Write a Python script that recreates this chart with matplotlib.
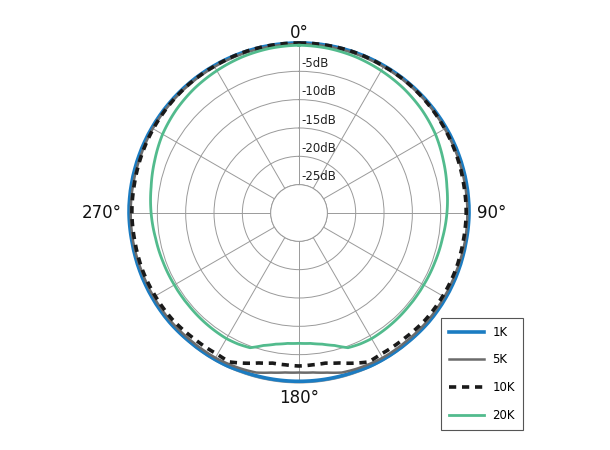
import numpy as np
import matplotlib
matplotlib.use('Agg')
import matplotlib.pyplot as plt

# angles (deg, clockwise from top) shared by all curves
angles = [0, 10, 20, 30, 40, 50, 60, 70, 80, 90, 100, 110, 120, 130, 140, 150,
          155, 160, 165, 170, 175, 180, 185, 190, 195, 200, 205,
          210, 220, 230, 240, 250, 260, 270, 280, 290, 300, 310, 320, 330, 340, 350, 360]

db_1k = [0, 0, 0, 0, 0, 0, 0, 0, 0, 0, -0.1, -0.1, -0.1, -0.1, -0.2, -0.2,
         -0.2, -0.3, -0.3, -0.3, -0.3, -0.3, -0.3, -0.3, -0.3, -0.3, -0.2,
         -0.2, -0.2, -0.1, -0.1, -0.1, -0.1, 0, 0, 0, 0, 0, 0, 0, 0, 0, 0]

db_5k = [-0.2, -0.2, -0.2, -0.2, -0.2, -0.2, -0.3, -0.3, -0.3, -0.3, -0.3, -0.4, -0.4, -0.4, -0.5, -0.5,
         -0.6, -0.7, -0.85, -1.4, -1.75, -1.85, -1.75, -1.4, -0.85, -0.7, -0.6,
         -0.5, -0.5, -0.4, -0.4, -0.4, -0.3, -0.3, -0.3, -0.3, -0.2, -0.2, -0.2, -0.2, -0.2, -0.2, -0.2]

db_10k = [0, 0, 0, -0.1, -0.1, -0.2, -0.3, -0.4, -0.5, -0.5, -0.6, -0.6, -0.7, -0.8, -1.1, -1.2,
          -1.0, -1.8, -2.6, -3.1, -3.1, -3.0, -3.1, -3.1, -2.6, -1.8, -1.0,
          -1.2, -1.1, -0.8, -0.7, -0.6, -0.6, -0.5, -0.5, -0.4, -0.3, -0.2, -0.1, -0.1, 0, 0, 0]

db_20k = [-0.4, -0.5, -0.7, -1.0, -1.3, -1.7, -2.2, -2.9, -3.5, -3.9, -4.3, -4.5, -4.6, -4.6, -4.5, -4.4,
          -4.5, -4.7, -5.8, -6.5, -6.9, -7.0, -6.9, -6.5, -5.8, -4.7, -4.5,
          -4.4, -4.5, -4.6, -4.6, -4.5, -4.3, -3.9, -3.5, -2.9, -2.2, -1.7, -1.3, -1.0, -0.7, -0.5, -0.4]

ring_db = [-5, -10, -15, -20, -25]
ring_labels = ['-5dB', '-10dB', '-15dB', '-20dB', '-25dB']
theta_ticks = [0, 30, 60, 90, 120, 150, 180, 210, 240, 270, 300, 330]
axis_angles = [0, 90, 180, 270]
axis_labels = ['0°', '90°', '180°', '270°']

fig = plt.figure(figsize=(6.1, 4.5), dpi=100)
ax = fig.add_axes([0.2115, 0.1489, 0.5574, 0.7556], projection='polar')
ax.set_theta_zero_location('N')
ax.set_theta_direction(-1)
ax.set_rorigin(-30)
ax.set_ylim(-25, 0)

th = np.deg2rad(angles)
lines = []
lines += ax.plot(th, db_1k, color='#1b7cc2', lw=2.6, label='1K', clip_on=False, zorder=3)
lines += ax.plot(th, db_5k, color='#6b6b6b', lw=1.8, label='5K', clip_on=False, zorder=4)
lines += ax.plot(th, db_10k, color='#1a1a1a', lw=2.6, ls=(0, (2, 1.6)), label='10K', clip_on=False, zorder=5)
lines += ax.plot(th, db_20k, color='#52bb8d', lw=2.0, label='20K', clip_on=False, zorder=6)
# draw the segments as arcs rather than straight chords
for ln in lines:
    ln.get_path()._interpolation_steps = 12

ax.set_thetagrids(theta_ticks, [''] * len(theta_ticks))
ax.set_rgrids(ring_db, [''] * len(ring_db))
ax.grid(color='#9a9a9a', lw=0.7)
for name, sp in ax.spines.items():
    sp.set_color('#9a9a9a')
    sp.set_linewidth(0.7)

for r, lab in zip(ring_db, ring_labels):
    ax.annotate(lab, xy=(0, r), xytext=(2, 1), textcoords='offset points',
                ha='left', va='bottom', fontsize=8.5, color='#222222')

# big angle labels outside the circle
offs = {0: ((0, 1), 'center', 'bottom'), 90: ((6, 0), 'left', 'center'),
        180: ((0, -4), 'center', 'top'), 270: ((-5, 0), 'right', 'center')}
for a, lab in zip(axis_angles, axis_labels):
    xy, ha, va = offs[a]
    ax.annotate(lab, xy=(np.deg2rad(a), 0), xytext=xy, textcoords='offset points',
                ha=ha, va=va, fontsize=12, color='#111111', annotation_clip=False)

leg = ax.legend(loc='upper left', bbox_to_anchor=(441 / 610, 1 - 318 / 450),
                bbox_transform=fig.transFigure, borderaxespad=0, fontsize=8.5,
                handlelength=3.0, labelspacing=1.25, fancybox=False,
                edgecolor='#555555', framealpha=1, borderpad=0.65, handletextpad=0.7)
leg.get_frame().set_linewidth(0.8)

fig.savefig('out.png', dpi=100)
